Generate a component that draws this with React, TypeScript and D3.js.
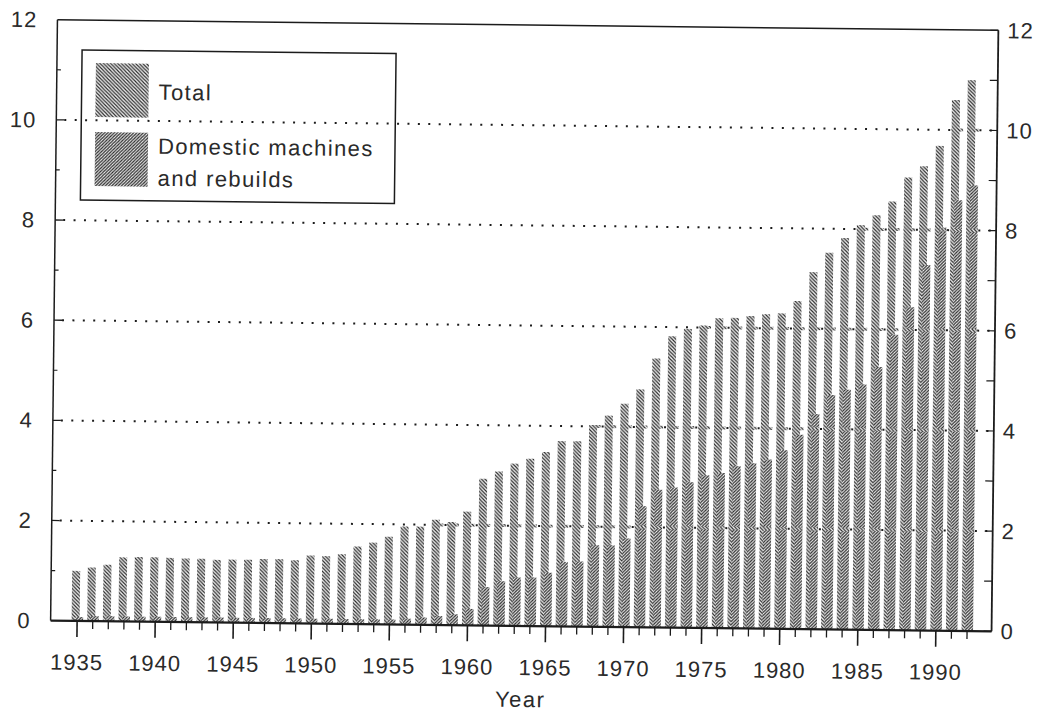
import * as React from "react";
import * as d3 from "d3";

// Data (values in the chart's own units)
const years = [
  1935, 1936, 1937, 1938, 1939, 1940, 1941, 1942, 1943, 1944,
  1945, 1946, 1947, 1948, 1949, 1950, 1951, 1952, 1953, 1954,
  1955, 1956, 1957, 1958, 1959, 1960, 1961, 1962, 1963, 1964,
  1965, 1966, 1967, 1968, 1969, 1970, 1971, 1972, 1973, 1974,
  1975, 1976, 1977, 1978, 1979, 1980, 1981, 1982, 1983, 1984,
  1985, 1986, 1987, 1988, 1989, 1990, 1991, 1992,
];

const total = [
  1.0, 1.07, 1.13, 1.28, 1.29, 1.29, 1.28, 1.27, 1.27, 1.25,
  1.26, 1.26, 1.28, 1.28, 1.26, 1.36, 1.35, 1.39, 1.55, 1.63,
  1.75, 1.96, 1.96, 2.1, 2.06, 2.27, 2.93, 3.08, 3.24, 3.34,
  3.48, 3.7, 3.7, 4.02, 4.22, 4.46, 4.75, 5.37, 5.82, 5.97,
  6.04, 6.19, 6.2, 6.24, 6.28, 6.3, 6.55, 7.13, 7.52, 7.82,
  8.08, 8.28, 8.56, 9.04, 9.27, 9.68, 10.6, 11.0,
];

const domestic = [
  0.08, 0.1, 0.1, 0.1, 0.1, 0.1, 0.1, 0.1, 0.1, 0.1,
  0.1, 0.1, 0.1, 0.1, 0.1, 0.1, 0.1, 0.1, 0.1, 0.1,
  0.1, 0.12, 0.15, 0.18, 0.22, 0.33, 0.77, 0.89, 0.97, 0.97,
  1.07, 1.29, 1.3, 1.63, 1.63, 1.77, 2.42, 2.75, 2.8, 2.91,
  3.05, 3.1, 3.24, 3.3, 3.38, 3.57, 3.88, 4.3, 4.68, 4.79,
  4.9, 5.25, 5.9, 6.45, 7.3, 8.05, 8.6, 8.9,
];

const xTickLabels = [1935, 1940, 1945, 1950, 1955, 1960, 1965, 1970, 1975, 1980, 1985, 1990];
const yTickLabels = [0, 2, 4, 6, 8, 10, 12];
const gridValues = [2, 4, 6, 8, 10];
const legendItems = [
  { lines: ["Total"], pattern: "hatchTotal" },
  { lines: ["Domestic machines", "and rebuilds"], pattern: "hatchDomestic" },
];

export default function App() {
  const width = 1042;
  const height = 712;

  // plot frame (before the small tilt of the scan)
  const left = 54, right = 995, top = 25, bottom = 626;

  const x = d3.scaleLinear().domain([1935, 1992]).range([80.5, 970.5]);
  const y = d3.scaleLinear().domain([0, 12]).range([bottom, top]);

  const ink = "#1c1c1c";
  const textInk = "#2a2a2a";
  const font = "'Liberation Sans', Arial, Helvetica, sans-serif";

  const allTicks = d3.range(0, 13);

  return (
    <div style={{ position: "fixed", left: 0, top: 0 }}>
      <svg width={width} height={height} style={{ display: "block", background: "#fff" }}>
        <defs>
          <pattern id="hatchTotal" patternUnits="userSpaceOnUse" width={3.6} height={3.6}>
            <rect width={3.6} height={3.6} fill="#f2f2f2" />
            <path d="M-1,-1 L4.6,4.6 M-1,2.6 L1,4.6 M2.6,-1 L4.6,1" stroke="#2a2a2a" strokeWidth={1.15} />
          </pattern>
          <pattern id="hatchDomestic" patternUnits="userSpaceOnUse" width={3.2} height={3.2}>
            <rect width={3.2} height={3.2} fill="#eeeeee" />
            <path d="M-1,4.2 L4.2,-1 M-1,1 L1,-1 M2.2,4.2 L4.2,2.2" stroke="#2e2e2e" strokeWidth={1.25} />
          </pattern>
        </defs>

        <g transform="rotate(0.65, 526, 325)" fontFamily={font} fill={textInk}>
          {/* bars */}
          {years.map((yr, i) => (
            <g key={yr}>
              <rect x={x(yr) - 5.5} width={8} y={y(total[i])} height={y(0) - y(total[i])}
                fill="url(#hatchTotal)" />
              <rect x={x(yr) - 2} width={8} y={y(domestic[i])} height={y(0) - y(domestic[i])}
                fill="url(#hatchDomestic)" />
            </g>
          ))}

          {/* dotted gridlines, drawn only in the gaps between bars */}
          {gridValues.map((v) => {
            const hidden = years
              .map((yr, i) => ({ yr, h: Math.max(total[i], domestic[i]) }))
              .filter((d) => d.h >= v);
            return (
              <g key={"g" + v}>
                <line x1={left + 8} x2={right} y1={y(v)} y2={y(v)}
                  stroke={ink} strokeWidth={2} strokeDasharray="2 8.4" />
                {hidden.map((d) => (
                  <rect key={d.yr} x={x(d.yr) - 5.5} width={11.5} y={y(v) - 1.5} height={3}
                    fill={d.h > 0 ? "url(#hatchTotal)" : "none"} />
                ))}
                <line x1={left} x2={left + 8} y1={y(v)} y2={y(v)} stroke={ink} strokeWidth={1.3} />
              </g>
            );
          })}

          {/* minor ticks on left (odd values) and right (all values) */}
          {allTicks.filter((v) => v % 2 === 1).map((v) => (
            <line key={"lt" + v} x1={left} x2={left + 4} y1={y(v)} y2={y(v)} stroke={ink} strokeWidth={1.2} />
          ))}
          {allTicks.map((v) => (
            <line key={"rt" + v} x1={right - 8} x2={right} y1={y(v)} y2={y(v)} stroke={ink} strokeWidth={1.2} />
          ))}

          {/* frame */}
          <line x1={left} x2={right} y1={top} y2={top} stroke={ink} strokeWidth={1.5} />
          <line x1={left} x2={left} y1={top} y2={bottom} stroke={ink} strokeWidth={1.5} />
          <line x1={right} x2={right} y1={top} y2={bottom} stroke={ink} strokeWidth={1.8} />
          <line x1={left} x2={right} y1={bottom} y2={bottom} stroke={ink} strokeWidth={2.2} />

          {/* x ticks */}
          {years.map((yr) => {
            const major = yr % 5 === 0;
            return (
              <line key={"xt" + yr} x1={x(yr)} x2={x(yr)} y1={bottom} y2={bottom + (major ? 16 : 8)}
                stroke={ink} strokeWidth={major ? 1.6 : 1.3} />
            );
          })}

          {/* tick labels */}
          {xTickLabels.map((yr) => (
            <text key={"xl" + yr} x={x(yr)} y={675} textAnchor="middle" fontSize={22} letterSpacing={1}>
              {yr}
            </text>
          ))}
          {yTickLabels.map((v) => (
            <text key={"yl" + v} x={34} y={y(v)} dy="0.35em" textAnchor="end" fontSize={22} letterSpacing={1}>
              {v}
            </text>
          ))}
          {yTickLabels.map((v) => (
            <text key={"yr" + v} x={1004} y={y(v)} dy="0.35em" textAnchor="start" fontSize={22} letterSpacing={1}>
              {v}
            </text>
          ))}

          <text x={(left + right) / 2} y={707} textAnchor="middle" fontSize={22} letterSpacing={1.5}>Year</text>

          {/* legend (transparent box, the 10 gridline shows through) */}
          <g>
            <rect x={79} y={55} width={314} height={150} fill="none" stroke={ink} strokeWidth={1.5} />
            {legendItems.map((item, i) => {
              const sy = 68 + i * 69;
              return (
                <g key={item.pattern}>
                  <rect x={93} y={sy} width={53} height={54} fill={`url(#${item.pattern})`} />
                  {item.lines.map((ln, j) => (
                    <text key={ln} x={156} y={i === 0 ? 104 : 158 + j * 32} fontSize={22} letterSpacing={1.4}>
                      {ln}
                    </text>
                  ))}
                </g>
              );
            })}
          </g>
        </g>
      </svg>
    </div>
  );
}
